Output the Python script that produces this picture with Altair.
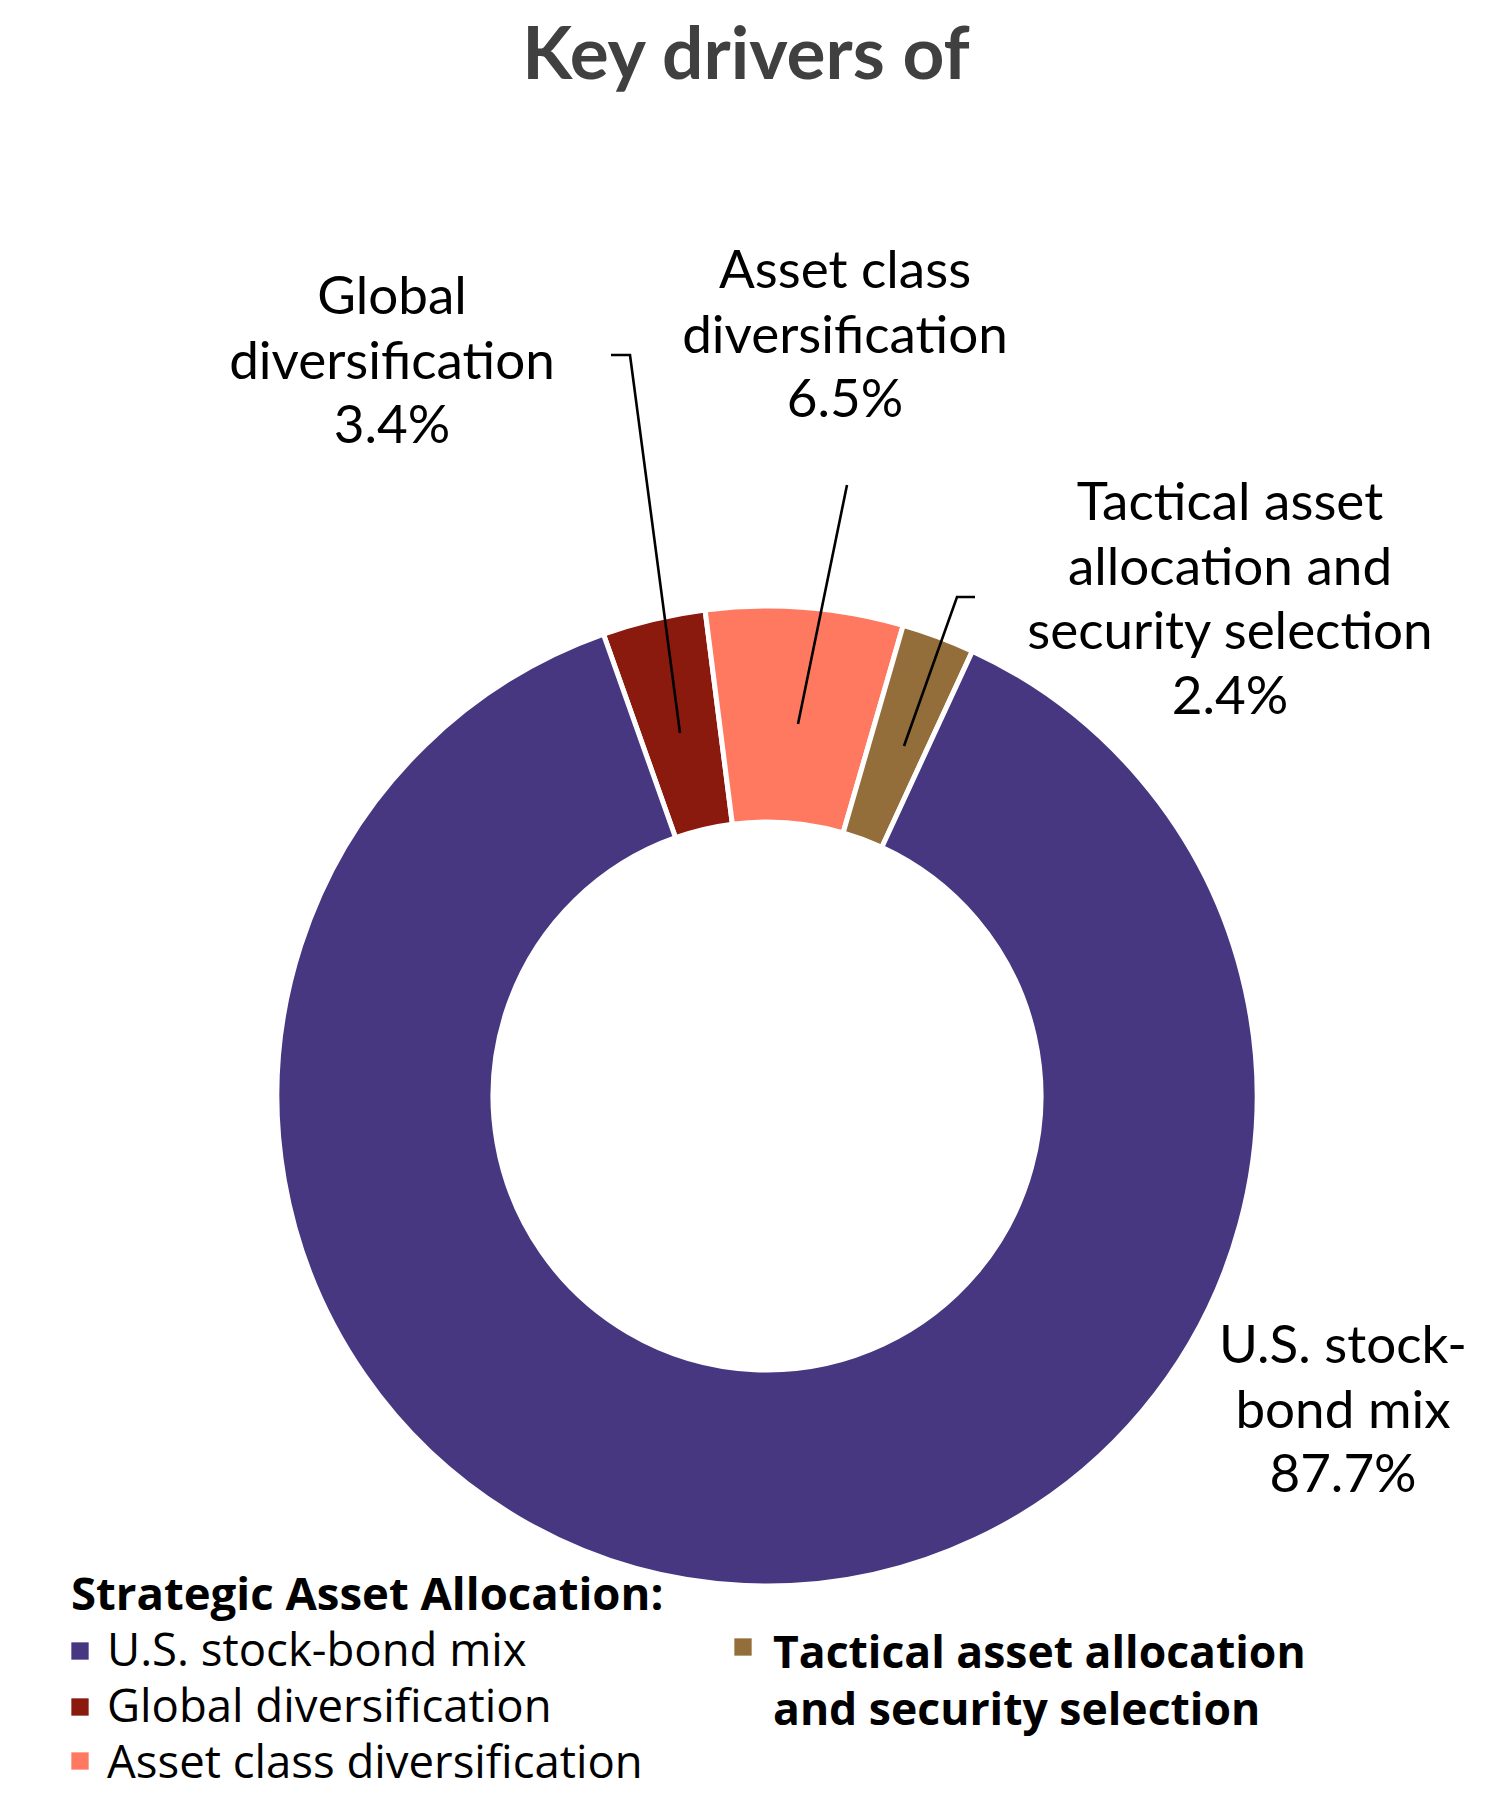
import math
import altair as alt
import pandas as pd

# ---- data ----
categories = [
    "Global diversification",
    "Asset class diversification",
    "Tactical asset allocation and security selection",
    "U.S. stock-bond mix",
]
values = [3.4, 6.5, 2.4, 87.7]
colors = ["#8B1A0E", "#FF7961", "#936E3B", "#463780"]
label_names = [
    ["Global", "diversification"],
    ["Asset class", "diversification"],
    ["Tactical asset", "allocation and", "security selection"],
    ["U.S. stock-", "bond mix"],
]
title_text = "Key drivers of"
legend_header = "Strategic Asset Allocation:"
legend_labels = [
    ["U.S. stock-bond mix"],
    ["Global diversification"],
    ["Asset class diversification"],
    ["Tactical asset allocation", "and security selection"],
]
legend_cats = [categories[3], categories[0], categories[1], categories[2]]
legend_bold = [False, False, False, True]

# ---- layout (page pixel coordinates) ----
W, H = 1469, 1792
OX, OY = 8, 8
CX, CY = 767, 1096
R_OUT, R_IN = 490, 274
start = math.radians(-19.5)

xs = alt.Scale(domain=[OX, OX + W], range=[0, W])
ys = alt.Scale(domain=[OY, OY + H], range=[0, H])
color_scale = alt.Scale(domain=categories, range=colors)

# donut
donut_df = pd.DataFrame({"category": categories, "value": values, "order": list(range(len(values)))})
arc = alt.Chart(donut_df).mark_arc(
    outerRadius=R_OUT, innerRadius=R_IN, stroke="white", strokeWidth=5
).encode(
    theta=alt.Theta("value:Q", stack=True, scale=alt.Scale(range=[start, start + 2 * math.pi])),
    color=alt.Color("category:N", scale=color_scale, legend=None),
    order=alt.Order("order:Q"),
    x=alt.value(CX - OX),
    y=alt.value(CY - OY),
)

# slice labels
label_pos = [(392, 314), (845, 288), (1230, 520), (1343, 1363)]
lab_df = pd.DataFrame({
    "text": ["\n".join(n + [f"{v}%"]) for n, v in zip(label_names, values)],
    "x": [p[0] for p in label_pos],
    "y": [p[1] for p in label_pos],
})
labels = alt.Chart(lab_df).mark_text(
    align="center", baseline="alphabetic", font="Lato", fontSize=53,
    lineBreak="\n", lineHeight=64.5, color="#000000"
).encode(
    x=alt.X("x:Q", scale=xs, axis=None),
    y=alt.Y("y:Q", scale=ys, axis=None),
    text="text:N",
)

# leader lines
leaders = {
    "g": [(611, 355), (630, 355), (680, 733)],
    "a": [(847, 485), (798, 724)],
    "t": [(975, 597), (957, 597), (904, 746)],
}
rows = []
for k, pts in leaders.items():
    for i, (px, py) in enumerate(pts):
        rows.append({"id": k, "o": i, "x": px, "y": py})
lead_df = pd.DataFrame(rows)
lines = alt.Chart(lead_df).mark_line(color="#000000", strokeWidth=2.6).encode(
    x=alt.X("x:Q", scale=xs, axis=None),
    y=alt.Y("y:Q", scale=ys, axis=None),
    detail="id:N",
    order="o:Q",
)

# title
title_df = pd.DataFrame({"text": [title_text], "x": [746], "y": [79]})
title = alt.Chart(title_df).mark_text(
    align="center", baseline="alphabetic", font="Lato", fontSize=73,
    fontWeight="bold", color="#404040"
).encode(
    x=alt.X("x:Q", scale=xs, axis=None),
    y=alt.Y("y:Q", scale=ys, axis=None),
    text="text:N",
)

# legend
hdr_df = pd.DataFrame({"text": [legend_header], "x": [71], "y": [1610]})
header = alt.Chart(hdr_df).mark_text(
    align="left", baseline="alphabetic", font="Open Sans", fontSize=45.5,
    fontWeight="bold", color="#000000"
).encode(
    x=alt.X("x:Q", scale=xs, axis=None),
    y=alt.Y("y:Q", scale=ys, axis=None),
    text="text:N",
)

leg_text_pos = [(107, 1666), (107, 1722), (107, 1778), (773, 1668)]
leg_sq_pos = [(80, 1651), (80, 1707), (80, 1761), (743, 1647)]
leg_df = pd.DataFrame({
    "category": legend_cats,
    "text": ["\n".join(l) for l in legend_labels],
    "bold": legend_bold,
    "tx": [p[0] for p in leg_text_pos],
    "ty": [p[1] for p in leg_text_pos],
    "sx": [p[0] for p in leg_sq_pos],
    "sy": [p[1] for p in leg_sq_pos],
})
leg_sq = alt.Chart(leg_df).mark_square(size=300, opacity=1).encode(
    x=alt.X("sx:Q", scale=xs, axis=None),
    y=alt.Y("sy:Q", scale=ys, axis=None),
    color=alt.Color("category:N", scale=color_scale, legend=None),
)
leg_txt_reg = alt.Chart(leg_df).transform_filter("!datum.bold").mark_text(
    align="left", baseline="alphabetic", font="Open Sans", fontSize=45.5,
    lineBreak="\n", lineHeight=57, color="#000000"
).encode(
    x=alt.X("tx:Q", scale=xs, axis=None),
    y=alt.Y("ty:Q", scale=ys, axis=None),
    text="text:N",
)
leg_txt_bold = alt.Chart(leg_df).transform_filter("datum.bold").mark_text(
    align="left", baseline="alphabetic", font="Open Sans", fontSize=44.5, fontWeight="bold",
    lineBreak="\n", lineHeight=57, color="#000000"
).encode(
    x=alt.X("tx:Q", scale=xs, axis=None),
    y=alt.Y("ty:Q", scale=ys, axis=None),
    text="text:N",
)

chart = alt.layer(
    arc, lines, labels, title, header, leg_sq, leg_txt_reg, leg_txt_bold
).properties(
    width=W, height=H, autosize="none", padding=0, background="white"
).configure_view(stroke=None)

chart.save("out.html", embed_options={"renderer": "svg", "actions": False})
